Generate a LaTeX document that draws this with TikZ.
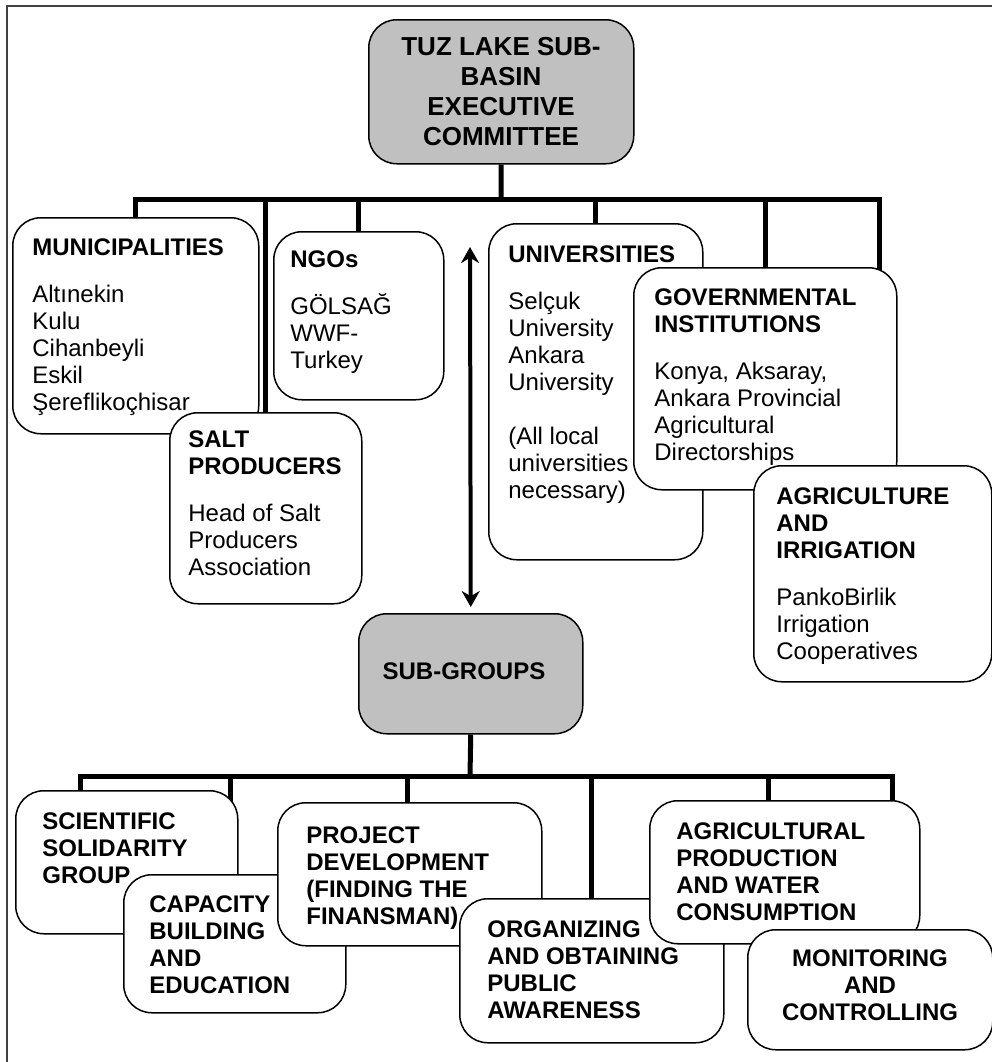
\documentclass[tikz,border=0pt]{standalone}
\usepackage{fontspec}
\setmainfont{Liberation Sans}
\usetikzlibrary{arrows.meta,backgrounds}
\definecolor{boxgray}{HTML}{C0C0C0}

\begin{document}
\begin{tikzpicture}[x=0.5pt, y=-0.5pt,
    box/.style={draw, rounded corners=14pt, fill=white, line width=0.75pt, anchor=north west, inner sep=0pt},
    headbox/.style={box, fill=boxgray},
    txt/.style={anchor=north west, inner sep=0pt, align=left, font=\fontsize{12}{13.5}\selectfont},
    btxt/.style={txt, font=\bfseries\fontsize{12}{13.5}\selectfont},
    link/.style={line width=2.5pt}]
            \useasboundingbox (0,0) rectangle (992,1062);
            \draw[line width=0.6pt, black!75] (7,1062) -- (7,6) -- (992,6);

            \node[headbox, minimum width=132.5pt, minimum height=72pt] (top) at (368,19) {};
            \node[btxt, anchor=north, align=center, font=\bfseries\fontsize{13}{15}\selectfont] (top-t) at (501,37) {TUZ LAKE SUB-\\BASIN\\EXECUTIVE\\COMMITTEE};

            \node[box, minimum width=123pt, minimum height=108pt] (muni) at (12,217) {};
            \node[txt] (muni-t) at (32,238) {\textbf{MUNICIPALITIES}\\[10pt]Altınekin\\Kulu\\Cihanbeyli\\Eskil\\Şereflikoçhisar};
            \node[box, minimum width=96pt, minimum height=95.5pt] (salt) at (169,412) {};
            \node[txt] (salt-t) at (188,430) {\textbf{SALT}\\\textbf{PRODUCERS}\\[10pt]Head of Salt\\Producers\\Association};
            \node[box, minimum width=85pt, minimum height=84pt] (ngo) at (273,231) {};
            \node[txt] (ngo-t) at (290,250) {\textbf{NGOs}\\[10pt]GÖLSAĞ\\WWF-\\Turkey};
            \node[box, minimum width=107pt, minimum height=168pt] (uni) at (488,223) {};
            \node[txt] (uni-t) at (508,245) {\textbf{UNIVERSITIES}\\[10pt]Selçuk\\University\\Ankara\\University\\[13.5pt](All local\\universities\\necessary)};
            \node[box, minimum width=131.5pt, minimum height=111pt] (gov) at (633,267) {};
            \node[txt] (gov-t) at (654,288) {\textbf{GOVERNMENTAL}\\\textbf{INSTITUTIONS}\\[10pt]Konya, Aksaray,\\Ankara Provincial\\Agricultural\\Directorships};
            \node[box, minimum width=119pt, minimum height=108pt] (agri) at (753,465) {};
            \node[txt] (agri-t) at (776,487) {\textbf{AGRICULTURE}\\\textbf{AND}\\\textbf{IRRIGATION}\\[10pt]PankoBirlik\\Irrigation\\Cooperatives};

            \node[headbox, minimum width=112pt, minimum height=60pt] (sub) at (358,613) {};
            \node[btxt, anchor=north] (sub-t) at (464,662) {SUB-GROUPS};
            \coordinate (up) at (470,247);
            \draw[line width=2pt, {Stealth[length=8pt,width=9pt]}-{Stealth[length=8pt,width=9pt]}] (up) -- ([yshift=3pt]sub.north);

            \node[box, minimum width=111pt, minimum height=71.5pt] (sci) at (15,790) {};
            \node[btxt] (sci-t) at (42,812) {SCIENTIFIC\\SOLIDARITY\\GROUP};
            \node[box, minimum width=111pt, minimum height=69pt] (cap) at (123,874) {};
            \node[btxt] (cap-t) at (149,895) {CAPACITY\\BUILDING\\AND\\EDUCATION};
            \node[box, minimum width=132pt, minimum height=71.5pt] (proj) at (277,802) {};
            \node[btxt] (proj-t) at (306,826) {PROJECT\\DEVELOPMENT\\(FINDING THE\\FINANSMAN)};
            \node[box, minimum width=132pt, minimum height=72pt] (org) at (459,898) {};
            \node[btxt] (org-t) at (487,920) {ORGANIZING\\AND OBTAINING\\PUBLIC\\AWARENESS};
            \node[box, minimum width=135pt, minimum height=71.5pt] (prod) at (649,800) {};
            \node[btxt] (prod-t) at (676,822) {AGRICULTURAL\\PRODUCTION\\AND WATER\\CONSUMPTION};
            \node[box, minimum width=122.5pt, minimum height=60pt] (mon) at (747,929) {};
            \node[btxt, anchor=north, align=center] (mon-t) at (870,949) {MONITORING\\AND\\CONTROLLING};

            \coordinate (hub1) at (501,199);
            \coordinate (hub2) at (470,776);
            \begin{scope}[on background layer]
                \draw[link] (top.south) -- (hub1);
                \foreach \n in {muni,salt,ngo,uni,gov}
                    \draw[link] (hub1) -| (\n.north);
                \draw[link] (hub1) -| ([xshift=3.5pt]agri.north);
                \draw[link] (sub.south) -- (hub2);
                \foreach \n/\s in {sci/-23pt,cap/-2pt,proj/-1pt,org/0pt,prod/-8pt,mon/11.25pt}
                    \draw[link] (hub2) -| ([xshift=\s]\n.north);
            \end{scope}

        \end{tikzpicture}
\end{document}
